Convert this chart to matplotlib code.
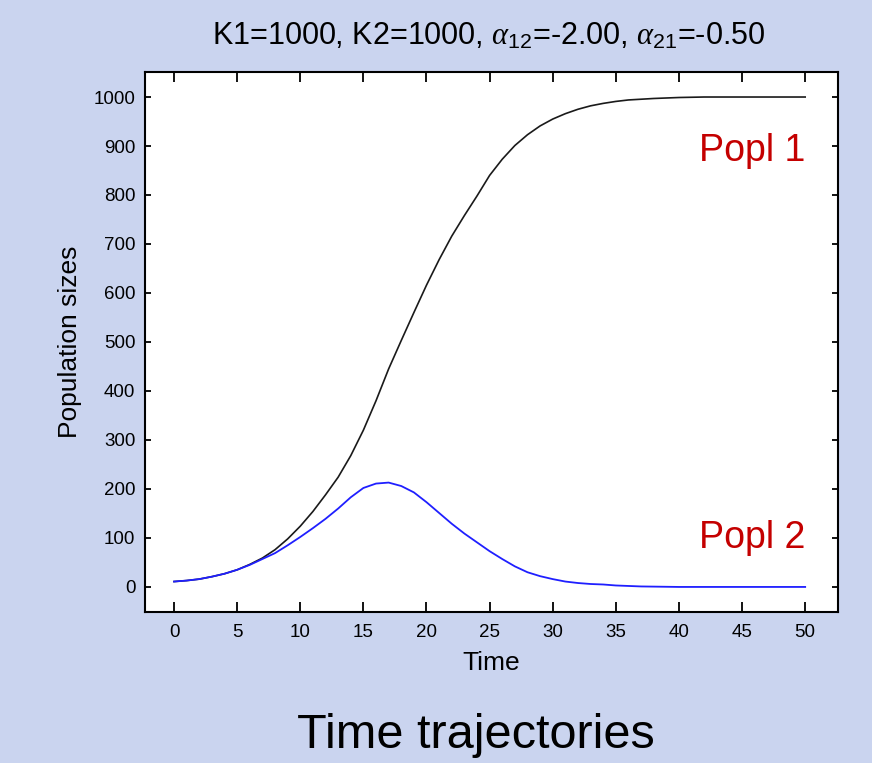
import numpy as np
import matplotlib
matplotlib.use("Agg")
import matplotlib.pyplot as plt

plt.rcParams['font.family'] = ['Liberation Sans', 'DejaVu Sans']
plt.rcParams['mathtext.fontset'] = 'custom'
plt.rcParams['mathtext.rm'] = 'Liberation Sans'
plt.rcParams['mathtext.it'] = 'Liberation Serif:italic'

# values
t1 = [0, 1, 2, 3, 4, 5, 6, 7, 8, 9, 10, 11, 12, 13, 14, 15, 16, 17, 18, 19,
      20, 21, 22, 23, 24, 25, 26, 27, 28, 29, 30, 31, 32, 33, 34, 35, 36, 38,
      40, 42, 50]
popl1 = [11, 13, 16, 21, 27, 35, 46, 59, 76, 98, 124, 154, 188, 224, 268, 320,
         380, 445, 503, 560, 616, 668, 716, 758, 798, 840, 873, 901, 923, 941,
         955, 966, 975, 982, 987, 991, 994, 997, 999, 1000, 1000]

t2 = [0, 1, 2, 3, 4, 5, 6, 7, 8, 9, 10, 11, 12, 13, 14, 15, 16, 17, 18, 19,
      20, 21, 22, 23, 24, 25, 26, 27, 28, 29, 30, 31, 32, 33, 34, 35, 36, 37,
      40, 45, 50]
popl2 = [11, 13, 16, 21, 27, 35, 45, 57, 69, 85, 102, 120, 139, 160, 183, 202,
         211, 213, 206, 193, 173, 151, 129, 109, 91, 73, 57, 42, 30, 22, 16, 11,
         8, 6, 5, 3, 2, 1, 0, 0, 0]

x_ticks = list(range(0, 51, 5))
y_ticks = list(range(0, 1001, 100))

bg = '#cad4ef'
fig = plt.figure(figsize=(8.72, 7.63), dpi=100, facecolor=bg)
ax = fig.add_axes([0.1663, 0.198, 0.7947, 0.7076])

ax.plot(t1, popl1, color='#1a1a1a', linewidth=1.2)
ax.plot(t2, popl2, color='#1f1fff', linewidth=1.3)

ax.set_xlim(-2.3, 52.6)
ax.set_ylim(-51, 1051)
ax.set_xticks(x_ticks)
ax.set_yticks(y_ticks)
ax.tick_params(axis='both', direction='in', top=True, right=True,
               labelsize=13.5, width=1.3)
ax.tick_params(axis='x', length=7, pad=9)
ax.tick_params(axis='y', length=4, pad=7)
for s in ax.spines.values():
    s.set_linewidth(1.5)

ax.set_xlabel('Time', fontsize=19, labelpad=7)
ax.set_ylabel('Population sizes', fontsize=19, labelpad=8)

ax.text(50, 890, 'Popl 1', color='#c40000', fontsize=27, ha='right', va='center')
ax.text(50, 100, 'Popl 2', color='#c40000', fontsize=27, ha='right', va='center')

fig.text(0.56, 0.953, r'K1=1000, K2=1000, $\alpha_{12}$=-2.00, $\alpha_{21}$=-0.50',
         fontsize=22, ha='center', va='center')
fig.text(0.546, 0.036, 'Time trajectories', fontsize=35, ha='center', va='center')

fig.savefig('out.png', dpi=100, facecolor=bg)
